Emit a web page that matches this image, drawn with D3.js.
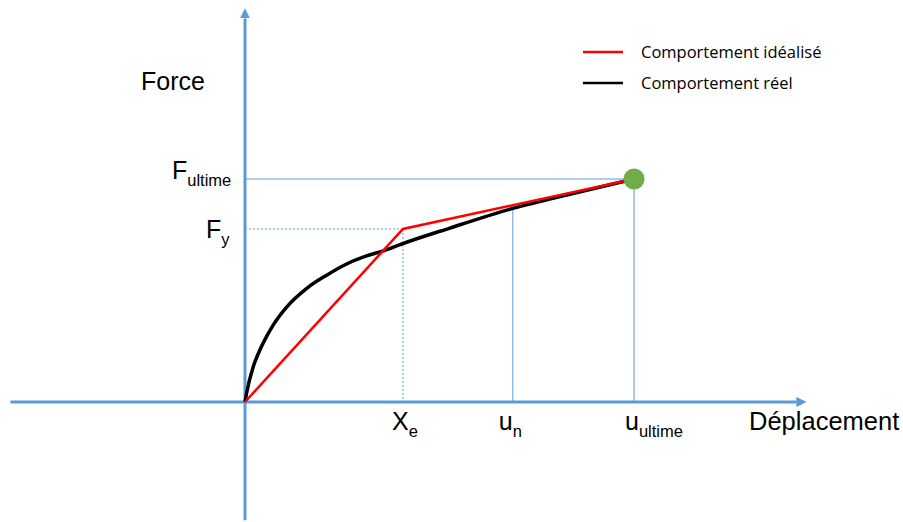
<!DOCTYPE html>
<html>
<head>
<meta charset="utf-8">
<script src="https://cdn.jsdelivr.net/npm/d3@7"></script>
<style>
  body { margin: 0; background: #fff; }
  text { font-family: "Liberation Sans", Arial, sans-serif; fill: #000; }
  .legend text { font-family: "Open Sans", "Noto Sans", sans-serif; }
</style>
</head>
<body>
<div id="chart"></div>
<script>
var svgWidth = 903;
var svgHeight = 522;

// key points (displacement, force), arbitrary units
var xe = 4.04, un = 6.85, uUltime = 9.95;
var fy = 7.76, fUltime = 10;

// idealised (bilinear) behaviour
var idealData = [
  {x: 0, y: 0},
  {x: xe, y: fy},
  {x: uUltime, y: fUltime}
];

var realData = [
  {x: 0, y: 0}, {x: 0.04, y: 0.39}, {x: 0.21, y: 1.58}, {x: 0.38, y: 2.33},
  {x: 0.55, y: 2.93}, {x: 0.72, y: 3.45}, {x: 1.07, y: 4.27}, {x: 1.58, y: 5.10},
  {x: 2.10, y: 5.70}, {x: 2.60, y: 6.19}, {x: 3.11, y: 6.55}, {x: 3.54, y: 6.78},
  {x: 3.95, y: 7.05}, {x: 5.24, y: 7.80}, {x: 6.85, y: 8.68}, {x: 8.44, y: 9.37},
  {x: uUltime, y: fUltime}
];

var legendLabels = ["Comportement idéalisé", "Comportement réel"];
var legendColors = ["#ff0000", "#000000"];

var axisColor = "#5b9bd5";

var svg = d3.select("#chart")
  .append("svg")
  .attr("width", svgWidth)
  .attr("height", svgHeight);

var xScale = d3.scaleLinear().domain([0, 10]).range([245, 636]);
var yScale = d3.scaleLinear().domain([0, 10]).range([402, 179]);

// arrow heads
var defs = svg.append("defs");
defs.append("marker")
  .attr("id", "arrow")
  .attr("viewBox", "0 0 10 10")
  .attr("refX", 0)
  .attr("refY", 5)
  .attr("markerWidth", 3.4)
  .attr("markerHeight", 3.4)
  .attr("markerUnits", "strokeWidth")
  .attr("orient", "auto")
  .append("path")
  .attr("d", "M0,0 L10,5 L0,10 z")
  .attr("fill", axisColor);

// axes
svg.append("line")
  .attr("x1", xScale(-6.0)).attr("x2", xScale(14.1))
  .attr("y1", yScale(0)).attr("y2", yScale(0))
  .attr("stroke", axisColor).attr("stroke-width", 3)
  .attr("marker-end", "url(#arrow)");

svg.append("line")
  .attr("x1", xScale(0)).attr("x2", xScale(0))
  .attr("y1", yScale(-5.3)).attr("y2", yScale(17.2))
  .attr("stroke", axisColor).attr("stroke-width", 3)
  .attr("marker-end", "url(#arrow)");

// guide lines
function idealAt(x) {
  var a = idealData[1], b = idealData[2];
  return a.y + (b.y - a.y) * (x - a.x) / (b.x - a.x);
}

var g = svg.append("g");
g.append("line")  // F ultime
  .attr("x1", xScale(0)).attr("x2", xScale(uUltime))
  .attr("y1", yScale(fUltime)).attr("y2", yScale(fUltime))
  .attr("stroke", axisColor).attr("stroke-width", 1);
g.append("line")  // u ultime
  .attr("x1", xScale(uUltime)).attr("x2", xScale(uUltime))
  .attr("y1", yScale(fUltime)).attr("y2", yScale(0))
  .attr("stroke", axisColor).attr("stroke-width", 1);
g.append("line")  // u n
  .attr("x1", xScale(un)).attr("x2", xScale(un))
  .attr("y1", yScale(idealAt(un))).attr("y2", yScale(0))
  .attr("stroke", axisColor).attr("stroke-width", 1);
g.append("line")  // F y dotted
  .attr("x1", xScale(0)).attr("x2", xScale(xe))
  .attr("y1", yScale(fy)).attr("y2", yScale(fy))
  .attr("stroke", axisColor).attr("stroke-width", 1)
  .attr("stroke-dasharray", "2,2");
g.append("line")  // X e dotted
  .attr("x1", xScale(xe)).attr("x2", xScale(xe))
  .attr("y1", yScale(fy)).attr("y2", yScale(0))
  .attr("stroke", axisColor).attr("stroke-width", 1)
  .attr("stroke-dasharray", "2,2");

// curves
var line = d3.line().x(d => xScale(d.x)).y(d => yScale(d.y));

svg.append("path")
  .datum(realData)
  .attr("d", line.curve(d3.curveMonotoneX))
  .attr("fill", "none")
  .attr("stroke", "#000")
  .attr("stroke-width", 3.5);

svg.append("path")
  .datum(idealData)
  .attr("d", d3.line().x(d => xScale(d.x)).y(d => yScale(d.y)))
  .attr("fill", "none")
  .attr("stroke", "#ff0000")
  .attr("stroke-width", 2.5);

svg.append("circle")
  .attr("cx", xScale(uUltime))
  .attr("cy", yScale(fUltime))
  .attr("r", 10.5)
  .attr("fill", "#70ad47");

// labels with subscripts
function subLabel(x, y, main, sub) {
  var t = svg.append("text")
    .attr("x", x).attr("y", y)
    .attr("font-size", 25);
  t.append("tspan").text(main);
  t.append("tspan").attr("font-size", 16.5).attr("dy", 7).text(sub);
  return t;
}

subLabel(172, yScale(fUltime), "F", "ultime");
subLabel(206, yScale(fy) + 9, "F", "y");
subLabel(xScale(xe) - 11, 430, "X", "e");
subLabel(xScale(un) - 14, 430, "u", "n");
subLabel(xScale(uUltime) - 9, 430, "u", "ultime");

svg.append("text")
  .attr("x", 141).attr("y", 90)
  .attr("font-size", 25)
  .text("Force");

svg.append("text")
  .attr("x", 749).attr("y", 430)
  .attr("font-size", 25.5)
  .text("Déplacement");

// legend
var legend = svg.append("g").attr("class", "legend");
legendLabels.forEach((lab, i) => {
  var ly = 52 + i * 31;
  legend.append("line")
    .attr("x1", 583).attr("x2", 623)
    .attr("y1", ly).attr("y2", ly)
    .attr("stroke", legendColors[i]).attr("stroke-width", 2.5);
  legend.append("text")
    .attr("x", 641).attr("y", ly + 5.5)
    .attr("font-size", 16.5)
    .text(lab);
});
</script>
</body>
</html>
